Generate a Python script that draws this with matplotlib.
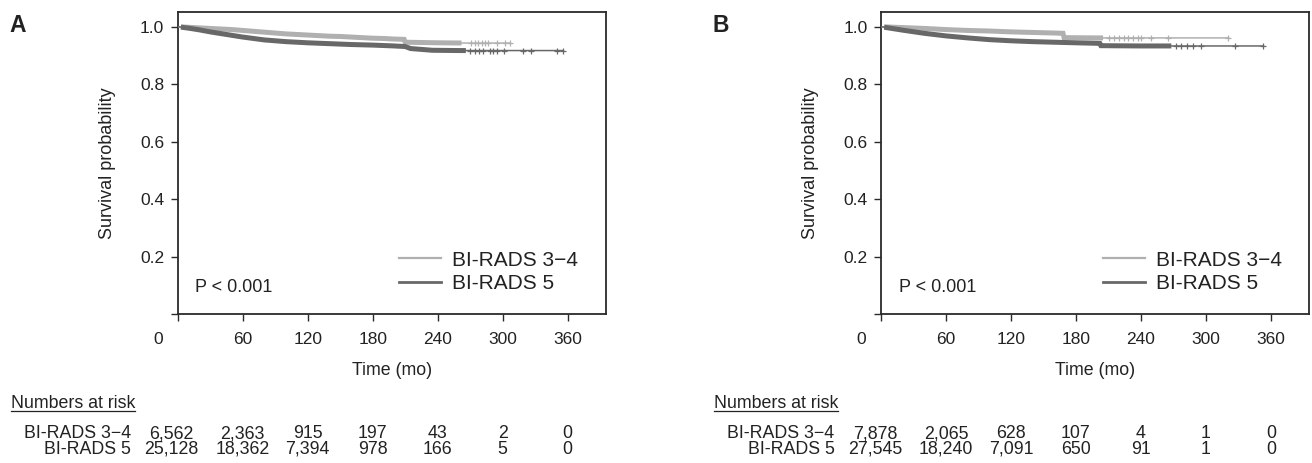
import numpy as np
import matplotlib
matplotlib.use("Agg")
import matplotlib.pyplot as plt
from matplotlib.lines import Line2D
from matplotlib.transforms import ScaledTranslation, blended_transform_factory

plt.rcParams['font.family'] = ['Liberation Sans', 'DejaVu Sans']

# ---------------- data ----------------
panel_letters = ['A', 'B']
group_labels = ['BI-RADS 3\u22124', 'BI-RADS 5']
p_texts = ['P < 0.001', 'P < 0.001']
time_ticks = [0, 60, 120, 180, 240, 300, 360]
y_ticks = [0.0, 0.2, 0.4, 0.6, 0.8, 1.0]
y_tick_labels = ['', '0.2', '0.4', '0.6', '0.8', '1.0']

# Panel A curves (time in months, survival probability)
a_light_t = [0, 10, 20, 30, 40, 50, 60, 70, 80, 90, 100, 110, 120, 130, 140, 150,
             160, 170, 180, 190, 200, 209, 210, 240, 270, 307]
a_light_s = [1.0, 0.998, 0.996, 0.994, 0.992, 0.990, 0.987, 0.984, 0.981, 0.978, 0.975,
             0.973, 0.971, 0.969, 0.967, 0.966, 0.964, 0.962, 0.960, 0.959, 0.957, 0.956,
             0.946, 0.944, 0.943, 0.943]
a_dark_t = [0, 10, 20, 30, 40, 50, 60, 70, 80, 90, 100, 120, 140, 160, 180, 200, 210,
            215, 225, 235, 260, 356]
a_dark_s = [1.0, 0.995, 0.989, 0.982, 0.976, 0.970, 0.964, 0.959, 0.954, 0.951, 0.948,
            0.944, 0.941, 0.938, 0.936, 0.933, 0.931, 0.924, 0.921, 0.918, 0.917, 0.917]
a_light_dense_end = 262
a_dark_dense_end = 266
a_light_cens = [271, 274.5, 277.5, 280.5, 283.5, 286.5, 294.5, 302, 307]
a_dark_cens = [270, 274, 278, 282, 288, 291, 294.5, 301, 319, 326, 350, 356]

# Panel B curves
b_light_t = [0, 20, 40, 60, 80, 100, 120, 140, 160, 168, 169, 200, 250, 321]
b_light_s = [1.0, 0.997, 0.994, 0.990, 0.987, 0.985, 0.982, 0.980, 0.978, 0.977,
             0.962, 0.961, 0.961, 0.961]
b_dark_t = [0, 20, 40, 60, 80, 100, 120, 140, 160, 180, 202, 203, 240, 353]
b_dark_s = [1.0, 0.988, 0.977, 0.968, 0.961, 0.955, 0.951, 0.948, 0.946, 0.944,
            0.942, 0.934, 0.933, 0.933]
b_light_dense_end = 205
b_dark_dense_end = 268
b_light_cens = [210, 215, 220, 224, 228, 233, 237, 240, 249.5, 265, 320.6]
b_dark_cens = [272, 277, 282.5, 288, 295, 327, 353]

# Numbers at risk
risk_a_34 = [6562, 2363, 915, 197, 43, 2, 0]
risk_a_5 = [25128, 18362, 7394, 978, 166, 5, 0]
risk_b_34 = [7878, 2065, 628, 107, 4, 1, 0]
risk_b_5 = [27545, 18240, 7091, 650, 91, 1, 0]

# ---------------- style ----------------
W, H, DPI = 1312, 463, 100
LIGHT = '#b0b0b0'
DARK = '#686868'
FRAME = '#2a2a2a'
TXT = '#222222'

fig = plt.figure(figsize=(W / DPI, H / DPI), dpi=DPI)

ax_top, ax_bot = 12, 314
panels = [
    dict(left=177.7, width=427.8,
         curves=[(a_light_t, a_light_s, a_light_dense_end, a_light_cens, LIGHT),
                 (a_dark_t, a_dark_s, a_dark_dense_end, a_dark_cens, DARK)],
         risk=[risk_a_34, risk_a_5]),
    dict(left=881.0, width=428.3,
         curves=[(b_light_t, b_light_s, b_light_dense_end, b_light_cens, LIGHT),
                 (b_dark_t, b_dark_s, b_dark_dense_end, b_dark_cens, DARK)],
         risk=[risk_b_34, risk_b_5]),
]


def curve_value(ts, ss, q):
    return np.interp(np.asarray(q, float), np.asarray(ts, float), np.asarray(ss, float))


underline_items = []
for i, pnl in enumerate(panels):
    ax = fig.add_axes([pnl['left'] / W, 1 - ax_bot / H, pnl['width'] / W,
                       (ax_bot - ax_top) / H])
    px_per_month = 65.0 / 60.0
    ax.set_xlim(0, pnl['width'] / px_per_month)
    ax.set_ylim(0, 1.0512)

    for (ts, ss, dense_end, cens, col) in pnl['curves']:
        ax.plot(ts, ss, color=col, lw=1.1, zorder=3)
        ts_a = np.asarray(ts, float)
        sel = ts_a[(ts_a > 3) & (ts_a < dense_end)]
        bt = np.concatenate([[3], sel, [dense_end]])
        bs = curve_value(ts, ss, bt)
        ax.plot(bt, bs, color=col, lw=3.6, zorder=3,
                solid_capstyle='butt', solid_joinstyle='miter')
        ax.plot(cens, curve_value(ts, ss, cens), linestyle='none', marker='+',
                ms=5, mew=0.9, color=col, zorder=4)

    for sp in ax.spines.values():
        sp.set_color(FRAME)
        sp.set_linewidth(1.3)
    ax.set_xticks(time_ticks)
    ax.set_xticklabels([str(t) for t in time_ticks])
    ax.set_yticks(y_ticks)
    ax.set_yticklabels(y_tick_labels)
    ax.tick_params(axis='both', direction='out', length=5, width=1.0,
                   color=FRAME, labelsize=12.5, labelcolor=TXT)
    ax.tick_params(axis='x', pad=8)
    ax.tick_params(axis='y', pad=4.8)
    # the "0" time label sits left of its tick
    lab0 = ax.xaxis.get_major_ticks()[0].label1
    lab0.set_transform(lab0.get_transform() +
                       ScaledTranslation(-20 / DPI, 0, fig.dpi_scale_trans))

    ax.set_ylabel('Survival probability', fontsize=13, color=TXT)
    ax.yaxis.set_label_coords(-0.144, 0.5)
    ax.set_xlabel('Time (mo)', fontsize=12.8, color=TXT)
    ax.xaxis.set_label_coords(0.5, -0.158)

    handles = [Line2D([], [], color=LIGHT, lw=1.6), Line2D([], [], color=DARK, lw=2.0)]
    ax.legend(handles, group_labels, loc='center left',
              bbox_to_anchor=(0.518, 0.139), frameon=False, fontsize=15,
              handlelength=2.0, handletextpad=0.55, labelspacing=0.22,
              borderpad=0, borderaxespad=0, labelcolor=TXT)
    ax.text(0.0414, 1 - (292.3 - ax_top) / (ax_bot - ax_top), p_texts[i],
            transform=ax.transAxes, fontsize=13, va='baseline', ha='left',
            color=TXT)

    # panel letter
    fig.text((pnl['left'] - 168.4) / W, 1 - 31.7 / H, panel_letters[i],
             fontsize=16.5, fontweight='bold', va='baseline', ha='left', color=TXT)

    # numbers at risk
    fx = blended_transform_factory(ax.transAxes, fig.transFigure)
    t_nar = fig.text(-167.0 / pnl['width'], 1 - 408.3 / H, 'Numbers at risk',
                     transform=fx, fontsize=12.8, va='baseline', ha='left', color=TXT)
    underline_items.append(t_nar)

    row_baselines = [438.3, 454.0]
    dx = blended_transform_factory(ax.transData, fig.transFigure)
    for r, (vals, lab, yb) in enumerate(zip(pnl['risk'], group_labels, row_baselines)):
        fig.text(-46.4 / pnl['width'], 1 - yb / H, lab, transform=fx,
                 fontsize=12.8, ha='right', va='baseline', color=TXT)
        for c, (t, v) in enumerate(zip(time_ticks, vals)):
            tr = dx
            if c == 0:
                tr = dx + ScaledTranslation(-6 / DPI, 0, fig.dpi_scale_trans)
            fig.text(t, 1 - yb / H, f'{v:,}', transform=tr, fontsize=12.8,
                     ha='center', va='baseline', color=TXT)

# underline "Numbers at risk"
fig.canvas.draw()
renderer = fig.canvas.get_renderer()
for t in underline_items:
    bb = t.get_window_extent(renderer=renderer)
    x0, x1 = bb.x0 / W, bb.x1 / W
    _, yb = t.get_transform().transform(t.get_position())
    yl = (yb - 2.5) / H
    fig.add_artist(Line2D([x0, x1], [yl, yl], transform=fig.transFigure,
                          color=TXT, lw=0.9))

fig.savefig('out.png', dpi=DPI)
